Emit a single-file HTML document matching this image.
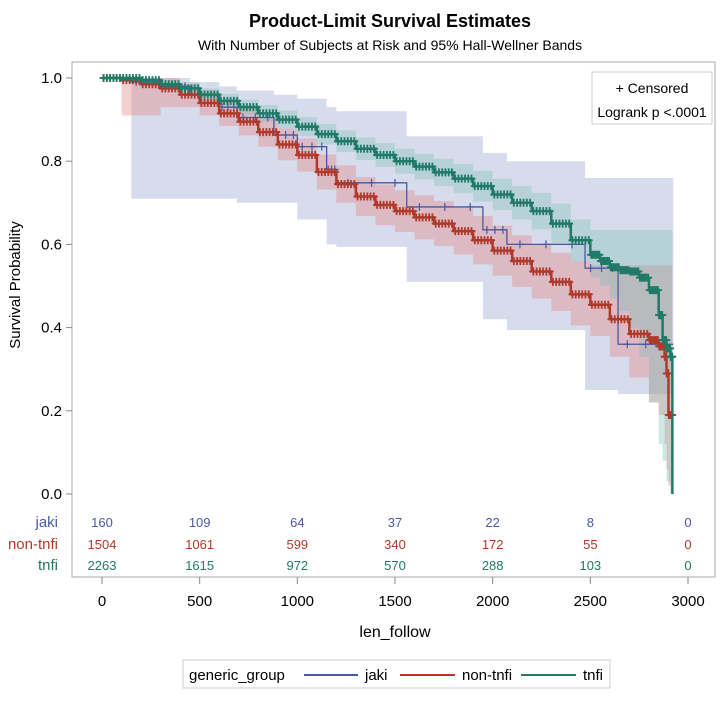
<!DOCTYPE html>
<html><head><meta charset="utf-8"><style>
body{margin:0;background:#fff;font-family:"Liberation Sans",sans-serif}
svg text{font-family:"Liberation Sans Narrow","Liberation Sans",sans-serif}
</style></head><body>
<svg id="c" width="726" height="702" viewBox="0 0 726 702" xmlns="http://www.w3.org/2000/svg">
<text x="390" y="27" text-anchor="middle" font-size="18" font-weight="bold">Product-Limit Survival Estimates</text>
<text x="390" y="50" text-anchor="middle" font-size="14">With Number of Subjects at Risk and 95% Hall-Wellner Bands</text>
<rect x="72" y="62" width="643" height="515" fill="none" stroke="#aaa"/>
<g id="bands"></g>
<g id="lines"></g>
<g id="axes"></g>
<text transform="translate(20,285) rotate(-90)" text-anchor="middle" font-size="15" style="font-family:'Liberation Sans',sans-serif">Survival Probability</text>
<text x="395" y="637" text-anchor="middle" font-size="16">len_follow</text>
<g>
<rect x="592" y="72" width="120" height="52" fill="#fff" stroke="#ccc"/>
<text x="652" y="93" text-anchor="middle" font-size="14">+ Censored</text>
<text x="652" y="117" text-anchor="middle" font-size="14">Logrank p &lt;.0001</text>
</g>
<g>
<rect x="183" y="660" width="427" height="28" fill="#fff" stroke="#ccc"/>
<text x="189" y="680" font-size="15">generic_group</text>
<g><line x1="304" y1="675" x2="358" y2="675" stroke="#4a58a0" stroke-width="2"/><text x="365" y="680" font-size="15">jaki</text></g>
<g><line x1="400" y1="675" x2="455" y2="675" stroke="#b03a2a" stroke-width="2"/><text x="462" y="680" font-size="15">non-tnfi</text></g>
<g><line x1="521" y1="675" x2="576" y2="675" stroke="#1f7a66" stroke-width="2"/><text x="583" y="680" font-size="15">tnfi</text></g>
</g>
</svg>
<script>
const groups=["jaki","non-tnfi","tnfi"];
const colors=["#4a58a0","#b03a2a","#1f7a66"];
const bandColors=["rgba(140,155,200,0.35)","rgba(230,120,120,0.35)","rgba(120,190,180,0.35)"];
const jakiTime=[0,150,300,450,600,690,880,1000,1150,1200,1560,1950,2073,2473,2642,2925];
const jakiSurv=[1,0.99,0.98,0.96,0.93,0.905,0.863,0.835,0.78,0.748,0.69,0.635,0.60,0.543,0.36,0.36];
const jakiLow=[1,0.71,0.71,0.71,0.71,0.70,0.70,0.66,0.60,0.594,0.51,0.42,0.394,0.25,0.24,0.24];
const jakiUp=[1,1,1,0.99,0.98,0.97,0.96,0.95,0.93,0.92,0.86,0.82,0.80,0.76,0.76,0.76];
const nonTime=[0,100,200,300,400,500,600,700,800,900,1000,1100,1200,1300,1400,1500,1600,1700,1800,1900,2000,2100,2200,2300,2400,2500,2600,2700,2800,2850,2880,2890,2900,2920];
const nonSurv=[1,0.995,0.985,0.975,0.96,0.94,0.915,0.895,0.87,0.84,0.815,0.774,0.745,0.715,0.695,0.68,0.665,0.65,0.632,0.61,0.585,0.56,0.535,0.51,0.48,0.455,0.42,0.385,0.37,0.355,0.33,0.29,0.19,0.19];
const nonLow=[1,0.91,0.91,0.93,0.93,0.91,0.885,0.862,0.835,0.802,0.775,0.732,0.70,0.668,0.646,0.63,0.612,0.596,0.576,0.552,0.525,0.498,0.47,0.44,0.405,0.38,0.33,0.28,0.22,0.19,0.12,0.06,0.02,0.02];
const nonUp=[1,1,1,1,0.985,0.97,0.945,0.928,0.905,0.878,0.855,0.816,0.79,0.762,0.744,0.73,0.718,0.704,0.688,0.668,0.645,0.622,0.60,0.58,0.56,0.55,0.55,0.55,0.55,0.55,0.55,0.55,0.55,0.55];
const tnfiTime=[0,100,200,300,400,500,600,700,800,900,1000,1100,1200,1300,1400,1500,1600,1700,1800,1900,2000,2100,2200,2300,2400,2500,2550,2600,2650,2700,2750,2800,2850,2870,2890,2910,2920];
const tnfiSurv=[1,1,0.995,0.985,0.975,0.96,0.945,0.93,0.915,0.90,0.883,0.865,0.848,0.83,0.815,0.80,0.787,0.773,0.758,0.74,0.72,0.70,0.68,0.65,0.61,0.575,0.56,0.545,0.538,0.535,0.52,0.49,0.43,0.37,0.35,0.33,0];
const tnfiLow=[1,0.99,0.985,0.975,0.962,0.945,0.928,0.912,0.895,0.878,0.86,0.84,0.822,0.803,0.786,0.77,0.756,0.74,0.723,0.703,0.682,0.66,0.636,0.602,0.56,0.52,0.50,0.47,0.44,0.40,0.33,0.22,0.12,0.08,0.03,0,0];
const tnfiUp=[1,1,1,0.995,0.99,0.975,0.962,0.948,0.935,0.922,0.906,0.89,0.874,0.857,0.844,0.83,0.818,0.806,0.793,0.777,0.758,0.74,0.724,0.698,0.66,0.635,0.635,0.635,0.635,0.635,0.635,0.635,0.635,0.635,0.635,0.635,0.635];
const riskTimes=[0,500,1000,1500,2000,2500,3000];
const riskJaki=[160,109,64,37,22,8,0];
const riskNon=[1504,1061,599,340,172,55,0];
const riskTnfi=[2263,1615,972,570,288,103,0];
const yTicks=[0,0.2,0.4,0.6,0.8,1.0];
const xTicks=[0,500,1000,1500,2000,2500,3000];
const times=[jakiTime,nonTime,tnfiTime],survs=[jakiSurv,nonSurv,tnfiSurv],lows=[jakiLow,nonLow,tnfiLow],ups=[jakiUp,nonUp,tnfiUp],risks=[riskJaki,riskNon,riskTnfi];
const X=t=>102+t*(586/3000), Y=v=>494-416*v;
const NS="http://www.w3.org/2000/svg";
function mk(tag,attrs,parent,txt){const e=document.createElementNS(NS,tag);for(const k in attrs)e.setAttribute(k,attrs[k]);if(txt!==undefined)e.textContent=txt;parent.appendChild(e);return e;}
function stepPts(t,v){let p=[];for(let i=0;i<t.length;i++){if(i>0)p.push([X(t[i]),Y(v[i-1])]);p.push([X(t[i]),Y(v[i])]);}return p;}
const bands=document.getElementById('bands'),lines=document.getElementById('lines'),axes=document.getElementById('axes');
for(let g=0;g<3;g++){
  const t=times[g];const up=stepPts(t,ups[g]),lo=stepPts(t,lows[g]).reverse();
  const poly=mk('polygon',{points:up.concat(lo).map(p=>p.join(',')).join(' '),fill:bandColors[g]},bands);
  
  
}
for(let g=0;g<3;g++){
  const t=times[g],v=survs[g];
  const pl=mk('polyline',{points:stepPts(t,v).map(p=>p.join(',')).join(' '),fill:'none',stroke:colors[g],'stroke-width':g==0?1.3:2.5},lines);
  
  
  const n=g==0?3:6;
  for(let i=0;i<t.length-1;i++){
    for(let k=0;k<n;k++){
      const tt=t[i]+(t[i+1]-t[i])*(k+0.5)/n;const cx=X(tt),cy=Y(v[i]);
      const m=mk('path',{d:`M${cx-4},${cy}h8M${cx},${cy-4}v8`,stroke:colors[g],'stroke-width':g==0?1.2:1.8},lines);
      
      
    }
  }
}
for(let i=0;i<yTicks.length;i++){
  const y=Y(yTicks[i]);
  mk('line',{x1:72,y1:y,x2:66,y2:y,stroke:'#888'},axes);
  const tx=mk('text',{x:62,y:y+5,'text-anchor':'end','font-size':15},axes,yTicks[i].toFixed(1));
  
  
}
for(let i=0;i<xTicks.length;i++){
  const x=X(xTicks[i]);
  mk('line',{x1:x,y1:577,x2:x,y2:584,stroke:'#888'},axes);
  const tx=mk('text',{x:x,y:606,'text-anchor':'middle','font-size':15},axes,String(xTicks[i]));
  
  
}
const rowY=[527,549,570];
for(let g=0;g<3;g++){
  const lb=mk('text',{x:58,y:rowY[g],'text-anchor':'end','font-size':15,fill:colors[g]},axes,groups[g]);
  
  
  for(let i=0;i<riskTimes.length;i++){
    const tx=mk('text',{x:X(riskTimes[i]),y:rowY[g],'text-anchor':'middle','font-size':13,fill:colors[g]},axes,String(risks[g][i]));
    
    
  }
}
</script>
</body></html>
